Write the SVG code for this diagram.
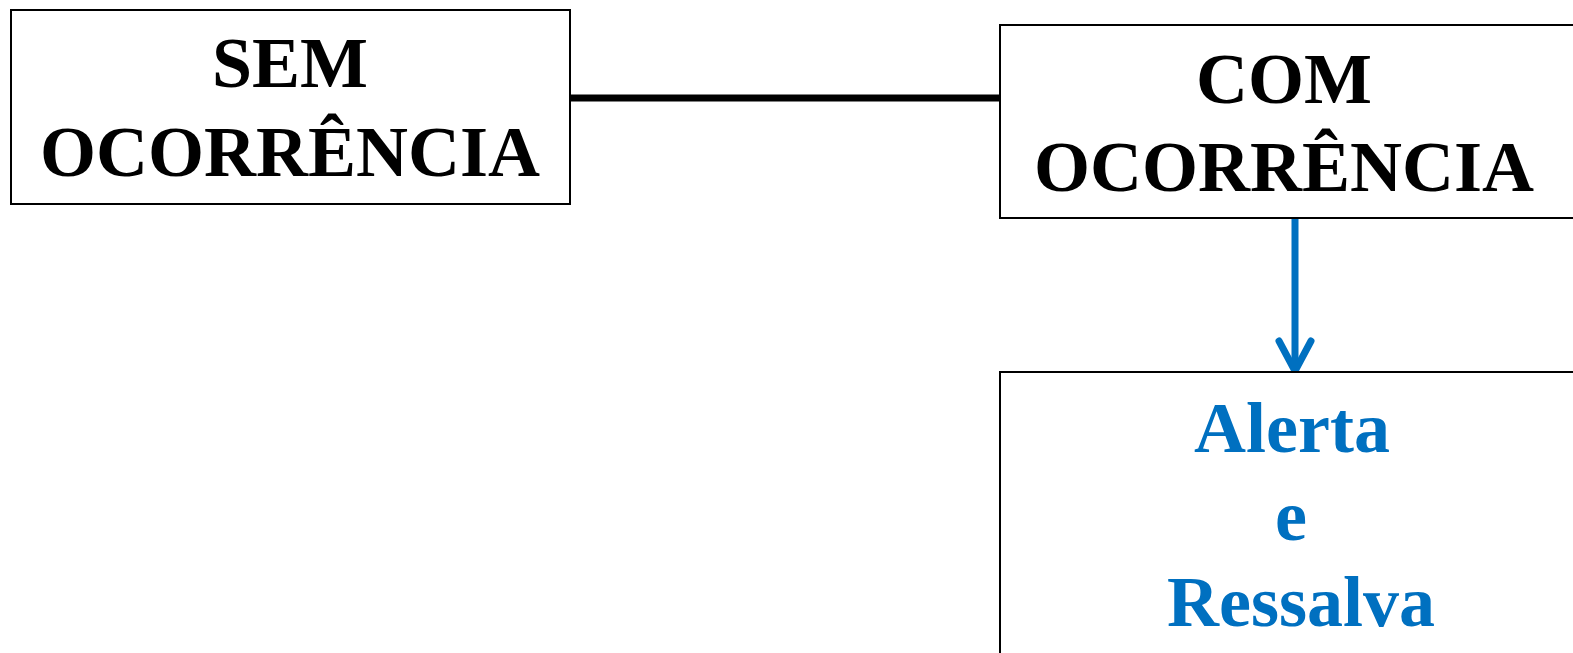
<svg xmlns="http://www.w3.org/2000/svg" width="1573" height="653" viewBox="0 0 1573 653">
<defs>
<style>
.box{fill:#fff;stroke:#000;stroke-width:2}
.t{font-family:"Liberation Serif","Times New Roman",serif;font-weight:bold;font-size:72px;text-anchor:middle;fill:#000}
.blue{fill:#0070C0}
</style>
</defs>
<rect width="1573" height="653" fill="#fff"/>
<g id="connectors">
<line x1="570" y1="98" x2="1000" y2="98" stroke="#000" stroke-width="7"/>
<line x1="1295" y1="219" x2="1295" y2="368" stroke="#0070C0" stroke-width="7"/>
<polyline points="1279,341 1295,371 1311,341" fill="none" stroke="#0070C0" stroke-width="7" stroke-linecap="round" stroke-linejoin="miter"/>
</g>
<g id="sem">
<rect class="box" x="11" y="10" width="559" height="194"/>
<text class="t" x="290" y="87">SEM</text>
<text class="t" x="290" y="176">OCORRÊNCIA</text>
</g>
<g id="com">
<rect class="box" x="1000" y="25" width="600" height="193"/>
<text class="t" x="1284" y="103">COM</text>
<text class="t" x="1284" y="191">OCORRÊNCIA</text>
</g>
<g id="alerta">
<rect class="box" x="1000" y="372" width="600" height="300"/>
<text class="t blue" x="1292" y="452">Alerta</text>
<text class="t blue" x="1291" y="540">e</text>
<text class="t blue" x="1301" y="626">Ressalva</text>
</g>
</svg>
